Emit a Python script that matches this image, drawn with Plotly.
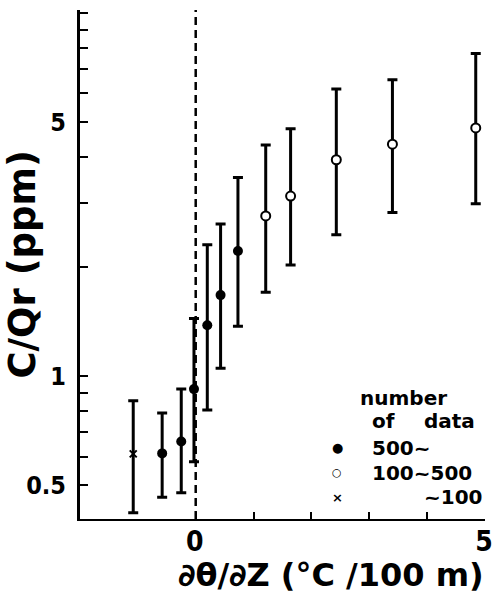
import plotly.graph_objects as go

# ---- data ----
x_vals = [-1.08, -0.58, -0.25, -0.03, 0.20, 0.43, 0.73, 1.21, 1.64, 2.43, 3.40, 4.84]
y_mean = [0.61, 0.612, 0.66, 0.92, 1.38, 1.67, 2.21, 2.76, 3.13, 3.94, 4.35, 4.82]
y_upper = [0.855, 0.79, 0.92, 1.44, 2.30, 2.62, 3.52, 4.33, 4.80, 6.17, 6.54, 7.73]
y_lower = [0.42, 0.463, 0.477, 0.58, 0.806, 1.05, 1.37, 1.70, 2.02, 2.45, 2.82, 2.98]
group = ["~100", "500~", "500~", "500~", "500~", "500~", "500~",
         "100~500", "100~500", "100~500", "100~500", "100~500"]

y_tickvals = [0.5, 0.6, 0.7, 0.8, 0.9, 1, 2, 3, 4, 5, 6, 7, 8, 9, 10]
y_ticktext = ["0.5", "", "", "", "", "1", "", "", "", "5", "", "", "", "", ""]
x_tickvals = [0, 1, 2, 3, 4, 5]
x_ticktext = ["0", "", "", "", "", "5"]

legend_title = ["number", "of", "data"]
legend_labels = ["500~", "100~500", "~100"]

TICKFONT = "DejaVu Sans Condensed, sans-serif"
TEXTFONT = "DejaVu Sans, Verdana, sans-serif"

styles = {
    "500~": dict(symbol="circle", size=10, color="black", line=dict(width=0, color="black")),
    "100~500": dict(symbol="circle", size=9, color="white", line=dict(width=2, color="black")),
    "~100": dict(symbol="x-thin", size=7, color="black", line=dict(width=2, color="black")),
}

fig = go.Figure()
for g in ["~100", "500~", "100~500"]:
    idx = [i for i, v in enumerate(group) if v == g]
    xs = [x_vals[i] for i in idx]
    ys = [y_mean[i] for i in idx]
    up = [y_upper[i] - y_mean[i] for i in idx]
    dn = [y_mean[i] - y_lower[i] for i in idx]
    fig.add_trace(go.Scatter(
        x=xs, y=ys, mode="markers", name=g, showlegend=False,
        marker=styles[g],
        error_y=dict(type="data", symmetric=False, array=up, arrayminus=dn,
                     color="black", thickness=3, width=5),
    ))

# dashed line at x = 0
fig.add_shape(type="line", xref="x", yref="paper", x0=0, x1=0, y0=0, y1=1,
              line=dict(color="black", width=2.5, dash="8px,5px"), layer="below")

fig.update_layout(
    width=493, height=598,
    margin=dict(l=80, r=8, t=10, b=79, autoexpand=False),
    paper_bgcolor="white", plot_bgcolor="white",
    xaxis=dict(range=[-2, 5], showgrid=False, zeroline=False,
               showline=True, linecolor="black", linewidth=2,
               ticks="inside", ticklen=7, tickwidth=2, tickcolor="black",
               tickvals=x_tickvals, ticktext=x_ticktext,
               tickfont=dict(family=TICKFONT, size=28, color="black", weight="bold"),
               ticklabelstandoff=-4, ticklabelshift=-1),
    yaxis=dict(type="log", range=[-0.394, 1.008], showgrid=False, zeroline=False,
               showline=True, linecolor="black", linewidth=3,
               ticks="inside", ticklen=8, tickwidth=2, tickcolor="black",
               tickvals=y_tickvals, ticktext=y_ticktext,
               tickfont=dict(family=TICKFONT, size=25, color="black", weight="bold"),
               ticklabelstandoff=6),
)

# axis titles
fig.add_annotation(text="C/Qr (ppm)", xref="paper", yref="paper",
                   x=-0.143, y=0.5, xanchor="center", yanchor="middle",
                   textangle=-90, showarrow=False,
                   font=dict(family=TEXTFONT, size=37, color="black", weight="bold"))
fig.add_annotation(text="∂θ/∂Z (°C /100 m)", xref="paper", yref="paper",
                   x=0.62, y=-0.1096, xanchor="center", yanchor="middle",
                   showarrow=False,
                   font=dict(family=TEXTFONT, size=32, color="black", weight="bold"))

# legend block
lf = dict(family=TEXTFONT, size=20, color="black", weight="bold")
fig.add_annotation(text=legend_title[0], xref="paper", yref="paper", x=0.686, y=0.237,
                   xanchor="left", yanchor="middle", showarrow=False, font=lf)
fig.add_annotation(text=legend_title[1], xref="paper", yref="paper", x=0.716, y=0.193,
                   xanchor="left", yanchor="middle", showarrow=False, font=lf)
fig.add_annotation(text=legend_title[2], xref="paper", yref="paper", x=0.980, y=0.193,
                   xanchor="right", yanchor="middle", showarrow=False, font=lf)
glyphs = ["●", "○", "×"]
glyph_sizes = [13, 11, 13]
rows_y = [0.1395, 0.0904, 0.0432]
for gl, gs, lab, yy in zip(glyphs, glyph_sizes, legend_labels, rows_y):
    fig.add_annotation(text=gl, xref="paper", yref="paper", x=0.635, y=yy,
                       xanchor="center", yanchor="middle", showarrow=False,
                       font=dict(family=TEXTFONT, size=gs, color="black", weight="bold"))
    if lab.startswith("~"):
        fig.add_annotation(text=lab, xref="paper", yref="paper", x=1.0, y=yy,
                           xanchor="right", yanchor="middle", showarrow=False, font=lf)
    else:
        fig.add_annotation(text=lab, xref="paper", yref="paper", x=0.716, y=yy,
                           xanchor="left", yanchor="middle", showarrow=False, font=lf)

# remove the default 8px page margin so the figure fills the window exactly
fig.write_html("out.html", config={"displayModeBar": False},
               post_script="document.body.style.margin='0';document.body.style.overflow='hidden';")
